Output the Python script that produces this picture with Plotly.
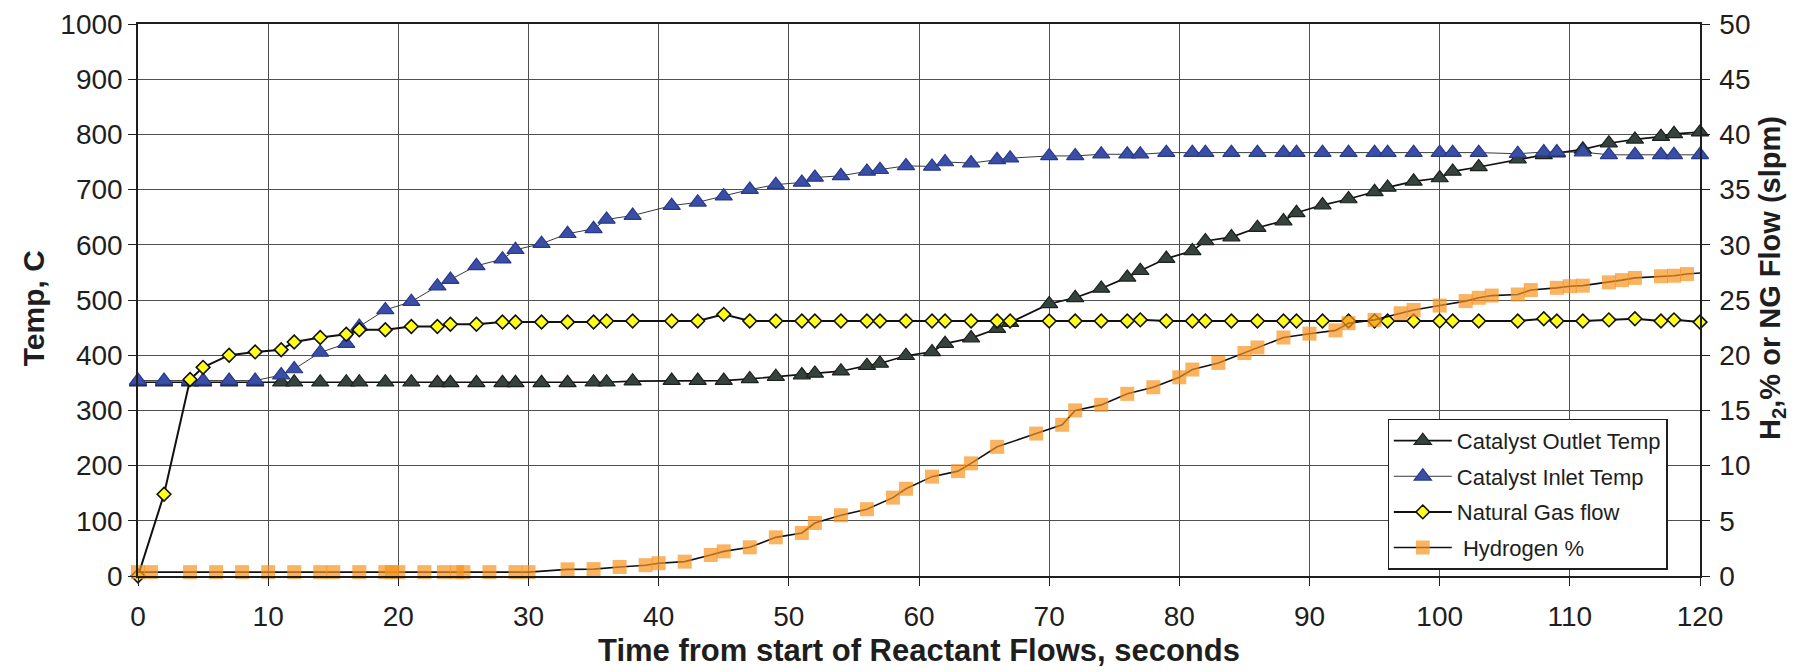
import plotly.graph_objects as go

# ---- data ----
t_temp = [0, 2, 4, 5, 7, 9, 11, 12, 14, 16, 17, 19, 21, 23, 24, 26, 28, 29, 31, 33,
          35, 36, 38, 41, 43, 45, 47, 49, 51, 52, 54, 56, 57, 59, 61, 62, 64, 66, 67, 70,
          72, 74, 76, 77, 79, 81, 82, 84, 86, 88, 89, 91, 93, 95, 96, 98, 100, 101, 103, 106,
          108, 109, 111, 113, 115, 117, 118, 120]

outlet_temp = [351, 351, 351, 351, 351, 351, 351, 351, 351, 351, 351, 351, 351, 350, 350, 350, 350, 350, 350, 350,
               351, 351, 353, 354, 354, 354, 357, 361, 364, 367, 371, 381, 385, 399, 406, 421, 431, 448, 459, 493,
               504, 521, 541, 553, 575, 589, 607, 614, 631, 643, 658, 672, 683, 696, 704, 715, 721, 733, 741, 755,
               763, 766, 773, 784, 791, 796, 801, 804]

inlet_temp = [354, 354, 354, 354, 354, 354, 364, 375, 405, 421, 452, 482, 497, 525, 537, 562, 574, 591, 602, 620,
              629, 646, 653, 671, 677, 688, 700, 709, 713, 722, 725, 733, 736, 743, 742, 750, 748, 754, 757, 761,
              761, 764, 764, 764, 767, 767, 767, 767, 767, 767, 767, 767, 767, 767, 767, 767, 767, 767, 767, 765,
              768, 768, 768, 763, 763, 763, 763, 763]

ng_flow = [0.0, 7.4, 17.8, 18.9, 20.0, 20.3, 20.5, 21.2, 21.6, 21.9, 22.3, 22.3, 22.6, 22.6, 22.8, 22.8, 23.0, 23.0, 23.0, 23.0,
           23.0, 23.1, 23.1, 23.1, 23.1, 23.7, 23.1, 23.1, 23.1, 23.1, 23.1, 23.1, 23.1, 23.1, 23.1, 23.1, 23.1, 23.1, 23.1, 23.1,
           23.1, 23.1, 23.1, 23.2, 23.1, 23.1, 23.1, 23.1, 23.1, 23.1, 23.1, 23.1, 23.1, 23.1, 23.1, 23.1, 23.1, 23.1, 23.1, 23.1,
           23.3, 23.1, 23.1, 23.2, 23.3, 23.1, 23.2, 23.0]

t_h2 = [0, 1, 4, 6, 8, 10, 12, 14, 15, 17, 19, 19.5, 20, 22, 23.5, 24.5, 25, 27, 29, 30,
        33, 35, 37, 39, 40, 42, 44, 45, 47, 49, 51, 52, 54, 56, 58, 59, 61, 63, 64, 66,
        69, 71, 72, 74, 76, 78, 80, 81, 83, 85, 86, 88, 90, 92, 93, 95, 97, 98, 100, 102,
        103, 104, 106, 107, 109, 110, 111, 113, 114, 115, 117, 118, 119, 120]

h2_pct = [0.35, 0.35, 0.35, 0.35, 0.35, 0.35, 0.35, 0.35, 0.35, 0.35, 0.35, 0.35, 0.35, 0.35, 0.35, 0.35, 0.35, 0.35, 0.35, 0.35,
          0.6, 0.62, 0.82, 0.98, 1.16, 1.3, 1.9, 2.23, 2.6, 3.5, 3.9, 4.8, 5.5, 6.05, 7.1, 7.9, 9.0, 9.5, 10.2, 11.7,
          12.9, 13.7, 15.0, 15.5, 16.5, 17.1, 18.0, 18.7, 19.3, 20.2, 20.7, 21.6, 21.95, 22.25, 22.9, 23.2, 23.8, 24.1, 24.5, 24.9,
          25.2, 25.4, 25.5, 25.9, 26.1, 26.25, 26.3, 26.6, 26.8, 27.0, 27.15, 27.2, 27.35, 27.45]

x_ticks = list(range(0, 121, 10))
names = ["Catalyst Outlet Temp", "Catalyst Inlet Temp", "Natural Gas flow", " Hydrogen %"]
y_title = "<b>Temp, C</b>"
y2_title = "<b>H<sub>2</sub>,% or NG Flow (slpm)</b>"
x_title = "<b>Time from start of Reactant Flows, seconds</b>"

FONT = "Arial, 'Liberation Sans', sans-serif"
INK = "#1e1e1e"

fig = go.Figure()

fig.add_trace(go.Scatter(
    x=t_temp, y=outlet_temp, name=names[0], mode="lines+markers", legendgroup="a",
    line=dict(color="#111111", width=1.7),
    marker=dict(symbol="triangle-up", size=15, color="#36433d", line=dict(color="#1a221e", width=1.2)),
    cliponaxis=False))

fig.add_trace(go.Scatter(
    x=t_temp, y=inlet_temp, name=names[1], mode="lines+markers", legendgroup="b",
    line=dict(color="#222222", width=0.9),
    marker=dict(symbol="triangle-up", size=15, color="#3a4ea6", line=dict(color="#283a8c", width=1.2)),
    cliponaxis=False))

fig.add_trace(go.Scatter(
    x=t_temp, y=ng_flow, name=names[2], mode="lines+markers", yaxis="y2", legendgroup="c",
    line=dict(color="#111111", width=2),
    marker=dict(symbol="diamond", size=10.5, color="#ffff1a", line=dict(color="#111111", width=1.6)),
    cliponaxis=False))

h2_sizes = [14] * (len(t_h2) - 1) + [0]
fig.add_trace(go.Scatter(
    x=t_h2, y=h2_pct, name=names[3], mode="lines+markers", yaxis="y2", legendgroup="d",
    line=dict(color="#111111", width=1.6),
    marker=dict(symbol="square", size=h2_sizes, color="#f7931e", line=dict(width=0)),
    cliponaxis=False))

axis_common = dict(
    showline=True, linecolor=INK, linewidth=1.5,
    ticks="outside", ticklen=8, tickcolor=INK,
    tickfont=dict(family=FONT, size=28, color=INK),
    zeroline=False, automargin=False, ticklabeloverflow="allow",
)

fig.update_layout(
    width=1796, height=672,
    margin=dict(l=130, r=104, t=16, b=104),
    paper_bgcolor="white", plot_bgcolor="white",
    font=dict(family=FONT, color=INK),
    xaxis=dict(
        range=[0, 120], tickvals=x_ticks, showgrid=True, gridcolor="#505050", gridwidth=1,
        mirror=True, ticklabelstandoff=7,
        title=dict(text=x_title, font=dict(family=FONT, size=31, color=INK), standoff=8),
        **axis_common),
    yaxis=dict(
        range=[0, 1000], dtick=100, showgrid=True, gridcolor="#505050", gridwidth=1,
        ticklabelstandoff=0,
        **axis_common),
    yaxis2=dict(
        range=[0, 50], dtick=5, overlaying="y", side="right", showgrid=False,
        ticklabelstandoff=4,
        **axis_common),
    annotations=[
        dict(text=y_title, xref="paper", yref="paper", x=0, y=0.485, xshift=-105,
             xanchor="center", yanchor="middle", textangle=-90, showarrow=False,
             font=dict(family=FONT, size=30, color=INK)),
        dict(text=y2_title, xref="paper", yref="paper", x=1, y=0.54, xshift=72,
             xanchor="center", yanchor="middle", textangle=-90, showarrow=False,
             font=dict(family=FONT, size=29, color=INK)),
    ],
    legend=dict(
        x=0.80, y=0.285, xanchor="left", yanchor="top",
        bgcolor="white", bordercolor=INK, borderwidth=1.2,
        font=dict(family=FONT, size=22, color=INK),
        itemwidth=58, tracegroupgap=4, traceorder="grouped",
    ),
    showlegend=True,
)

fig.write_html("out.html")
